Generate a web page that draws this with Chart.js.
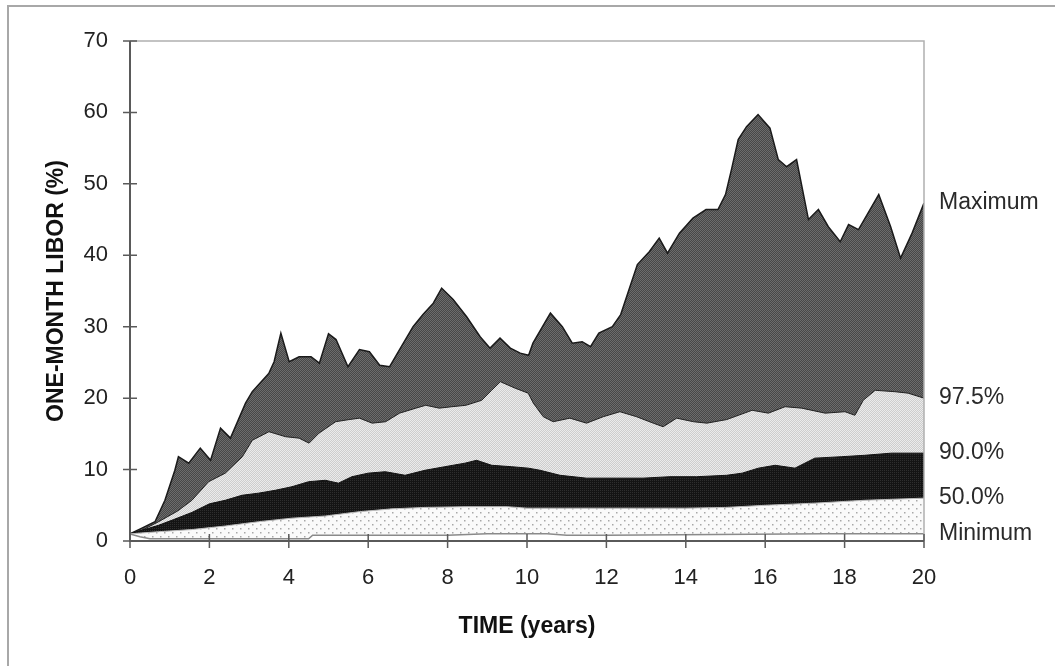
<!DOCTYPE html>
<html>
<head>
<meta charset="utf-8">
<script src="https://cdn.jsdelivr.net/npm/chart.js@4.4.1/dist/chart.umd.min.js"></script>
<style>
  html, body { margin: 0; padding: 0; background: #fff; overflow: hidden; }
  #wrap { position: relative; width: 1055px; height: 666px; }
  #frame { position: absolute; left: 7px; top: 5px; width: 2000px; height: 2000px; border: 2px solid #a8a8a8; }
  canvas { position: absolute; left: 0; top: 0; }
</style>
</head>
<body>
<div id="wrap">
  <div id="frame"></div>
  <canvas id="liborChart"></canvas>
</div>
<script>
// series: time (years) and one-month LIBOR (%)
const maxT = [0, 0.3, 0.63, 0.88, 1.13, 1.22, 1.48, 1.77, 2.03, 2.28, 2.53, 2.91, 3.08, 3.5, 3.63, 3.8, 4.01, 4.26, 4.56, 4.77, 5.0, 5.19, 5.49, 5.78, 6.03, 6.29, 6.54, 6.79, 7.13, 7.38, 7.64, 7.85, 8.14, 8.48, 8.82, 9.07, 9.32, 9.58, 9.83, 10.04, 10.15, 10.59, 10.89, 11.14, 11.39, 11.6, 11.81, 12.15, 12.36, 12.57, 12.78, 13.08, 13.33, 13.54, 13.84, 14.18, 14.51, 14.81, 15.0, 15.15, 15.32, 15.53, 15.82, 16.12, 16.33, 16.54, 16.79, 17.09, 17.34, 17.59, 17.89, 18.1, 18.35, 18.86, 19.16, 19.41, 19.7, 20];
const maxV = [1.0, 1.8, 2.7, 5.7, 9.9, 11.8, 10.9, 13.0, 11.3, 15.8, 14.4, 19.3, 20.9, 23.5, 25.1, 29.1, 25.1, 25.8, 25.8, 24.9, 29.0, 28.2, 24.4, 26.8, 26.5, 24.6, 24.4, 26.8, 30.0, 31.7, 33.3, 35.4, 33.8, 31.4, 28.6, 27.0, 28.4, 27.0, 26.3, 26.0, 27.7, 31.9, 30.0, 27.7, 27.9, 27.2, 29.1, 30.0, 31.7, 35.2, 38.7, 40.5, 42.4, 40.3, 43.1, 45.2, 46.4, 46.4, 48.5, 52.0, 56.2, 58.0, 59.7, 57.8, 53.4, 52.4, 53.4, 45.0, 46.4, 44.0, 41.9, 44.3, 43.6, 48.5, 44.0, 39.6, 43.1, 47.3];

const p975T = [0, 0.3, 0.72, 1.2, 1.56, 1.98, 2.4, 2.83, 3.08, 3.5, 3.92, 4.26, 4.51, 4.76, 5.18, 5.52, 5.78, 6.1, 6.44, 6.79, 7.2, 7.45, 7.79, 8.11, 8.46, 8.86, 9.11, 9.33, 9.7, 10.03, 10.16, 10.41, 10.66, 11.08, 11.5, 11.92, 12.34, 12.76, 13.18, 13.43, 13.77, 14.19, 14.53, 15.03, 15.67, 16.08, 16.5, 16.92, 17.51, 18.01, 18.26, 18.47, 18.77, 19.27, 19.6, 20];
const p975V = [1.0, 1.5, 2.7, 4.2, 5.7, 8.3, 9.5, 11.8, 14.1, 15.3, 14.6, 14.4, 13.7, 15.1, 16.7, 17.0, 17.2, 16.5, 16.7, 17.9, 18.6, 19.0, 18.6, 18.8, 19.0, 19.7, 21.1, 22.3, 21.4, 20.7, 19.3, 17.4, 16.7, 17.2, 16.5, 17.4, 18.1, 17.4, 16.5, 16.0, 17.2, 16.7, 16.5, 17.0, 18.3, 17.9, 18.8, 18.6, 17.9, 18.1, 17.6, 19.7, 21.1, 20.9, 20.7, 20.0];

const p90T = [0, 0.72, 1.1, 1.56, 2.0, 2.4, 2.82, 3.24, 3.66, 4.08, 4.5, 4.92, 5.25, 5.59, 6.0, 6.43, 6.93, 7.43, 7.93, 8.44, 8.73, 9.11, 9.61, 10.03, 10.33, 10.83, 11.5, 12.25, 12.92, 13.6, 14.27, 15.03, 15.42, 15.83, 16.25, 16.75, 17.25, 17.92, 18.51, 19.18, 20];
const p90V = [1.0, 2.2, 3.0, 4.0, 5.2, 5.7, 6.4, 6.7, 7.1, 7.6, 8.3, 8.5, 8.1, 9.0, 9.5, 9.7, 9.2, 9.9, 10.4, 10.9, 11.3, 10.6, 10.4, 10.2, 9.9, 9.2, 8.8, 8.8, 8.8, 9.0, 9.0, 9.2, 9.5, 10.2, 10.6, 10.2, 11.6, 11.8, 12.0, 12.3, 12.3];

const p50T = [0, 0.72, 1.56, 2.4, 3.24, 4.08, 4.92, 5.77, 6.6, 7.43, 8.44, 9.5, 10, 12, 14, 15, 16, 17.25, 18.5, 20];
const p50V = [1.0, 1.3, 1.6, 2.1, 2.7, 3.2, 3.5, 4.1, 4.5, 4.7, 4.8, 4.8, 4.6, 4.6, 4.6, 4.7, 5.0, 5.3, 5.7, 6.0];

const minT = [0, 0.25, 0.5, 4.5, 4.6, 8, 9, 10.5, 11, 12, 17.5, 20];
const minV = [1.0, 0.6, 0.3, 0.3, 0.8, 0.8, 1.0, 1.0, 0.8, 0.8, 1.0, 1.0];

const seriesNames = ['Minimum', '50.0%', '90.0%', '97.5%', 'Maximum'];
const xTicks = { min: 0, max: 20, step: 2 };
const yTicks = { min: 0, max: 70, step: 10 };

const toPoints = (ts, vs) => ts.map((t, i) => ({ x: t, y: vs[i] }));

// little repeating fills that imitate the printed screens
const makePattern = (w, h, draw) => {
  const c = document.createElement('canvas');
  c.width = w; c.height = h;
  const g = c.getContext('2d');
  draw(g);
  return g.createPattern(c, 'repeat');
};
const darkFill = makePattern(2, 2, g => {
  g.fillStyle = '#474747'; g.fillRect(0, 0, 2, 2);
  g.fillStyle = '#6c6c6c'; g.fillRect(0, 0, 1, 1); g.fillRect(1, 1, 1, 1);
});
const lightFill = makePattern(2, 2, g => {
  g.fillStyle = '#cdcdcd'; g.fillRect(0, 0, 2, 2);
  g.fillStyle = '#ebebeb'; g.fillRect(0, 0, 1, 1); g.fillRect(1, 1, 1, 1);
});
const blackFill = makePattern(2, 2, g => {
  g.fillStyle = '#141414'; g.fillRect(0, 0, 2, 2);
  g.fillStyle = '#2e2e2e'; g.fillRect(0, 0, 1, 1);
});
const dotFill = makePattern(8, 8, g => {
  g.fillStyle = '#fafafa'; g.fillRect(0, 0, 8, 8);
  g.fillStyle = '#a8a8a8'; g.fillRect(0, 0, 1.5, 1.5); g.fillRect(4, 4, 1.5, 1.5);
});

const FONT = "'Liberation Sans', Arial, sans-serif";

const decor = {
  id: 'decor',
  afterDatasetsDraw(chart) {
    const { ctx, chartArea: a, scales: { x, y } } = chart;
    ctx.save();
    // light top / right edges of the plot
    ctx.strokeStyle = '#b0b0b0';
    ctx.lineWidth = 1.5;
    ctx.beginPath();
    ctx.moveTo(a.left, a.top); ctx.lineTo(a.right, a.top); ctx.lineTo(a.right, a.bottom);
    ctx.stroke();
    // axes
    ctx.strokeStyle = '#5a5a5a';
    ctx.lineWidth = 2;
    ctx.beginPath();
    ctx.moveTo(a.left, a.top); ctx.lineTo(a.left, a.bottom); ctx.lineTo(a.right, a.bottom);
    ctx.stroke();
    // tick marks crossing the axes
    ctx.lineWidth = 1.5;
    ctx.beginPath();
    y.ticks.forEach((t, i) => {
      const py = y.getPixelForTick(i);
      ctx.moveTo(a.left - 7, py); ctx.lineTo(a.left + 7, py);
    });
    x.ticks.forEach((t, i) => {
      const px = x.getPixelForTick(i);
      ctx.moveTo(px, a.bottom - 7); ctx.lineTo(px, a.bottom + 7);
    });
    ctx.stroke();
    // series names at the right end
    ctx.fillStyle = '#2a2a2a';
    ctx.font = '23px ' + FONT;
    ctx.textBaseline = 'middle';
    ctx.textAlign = 'left';
    chart.data.datasets.forEach(ds => {
      const last = ds.data[ds.data.length - 1];
      ctx.fillText(ds.label, a.right + 15, y.getPixelForValue(last.y));
    });
    ctx.restore();
  }
};

const series = [
  { t: minT, v: minV, fill: '#ffffff', line: '#8a8a8a', w: 1.5 },
  { t: p50T, v: p50V, fill: dotFill, line: '#bdbdbd', w: 1 },
  { t: p90T, v: p90V, fill: blackFill, line: '#111', w: 1 },
  { t: p975T, v: p975V, fill: lightFill, line: '#222', w: 1 },
  { t: maxT, v: maxV, fill: darkFill, line: '#1a1a1a', w: 1.5 }
];

new Chart(document.getElementById('liborChart'), {
  type: 'line',
  data: {
    datasets: series.map((s, i) => ({
      label: seriesNames[i],
      data: toPoints(s.t, s.v),
      backgroundColor: s.fill,
      borderColor: s.line,
      borderWidth: s.w,
      fill: 'origin',
      pointRadius: 0,
      tension: 0
    }))
  },
  options: {
    responsive: true,
    maintainAspectRatio: false,
    animation: false,
    layout: { padding: { top: 41, right: 131, bottom: 0, left: 0 } },
    plugins: { legend: { display: false }, tooltip: { enabled: false } },
    scales: {
      x: {
        type: 'linear',
        min: xTicks.min, max: xTicks.max,
        grid: { display: false, drawTicks: false },
        border: { display: false },
        ticks: { stepSize: xTicks.step, padding: 24, color: '#222', font: { family: FONT, size: 22 } },
        title: { display: true, text: 'TIME (years)', color: '#111', font: { family: FONT, size: 23, weight: 'bold' }, padding: { top: 0, bottom: 26 } },
        afterFit: s => { s.height = 125; }
      },
      y: {
        min: yTicks.min, max: yTicks.max,
        grid: { display: false, drawTicks: false },
        border: { display: false },
        ticks: { stepSize: yTicks.step, padding: 22, color: '#222', font: { family: FONT, size: 22 } },
        title: { display: true, text: 'ONE-MONTH LIBOR (%)', color: '#111', font: { family: FONT, size: 23, weight: 'bold' }, padding: { top: 43, bottom: 0 } },
        afterFit: s => { s.width = 130; }
      }
    }
  },
  plugins: [decor]
});
</script>
</body>
</html>
